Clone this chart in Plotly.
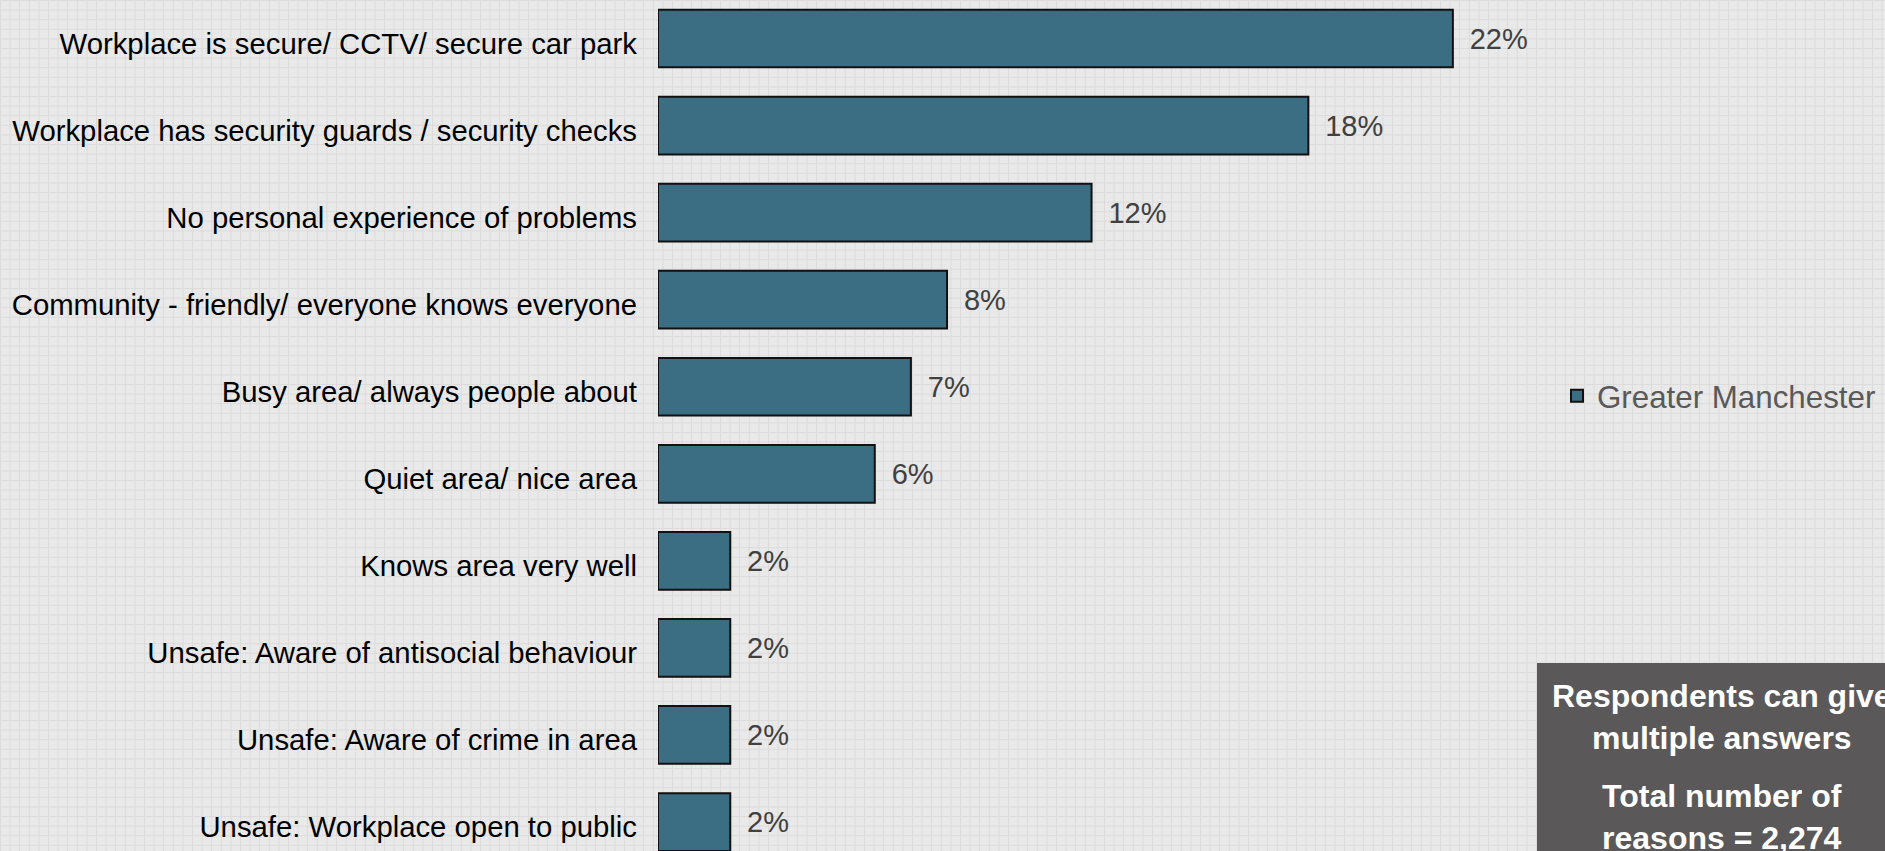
import plotly.graph_objects as go

categories = [
    "Workplace is secure/ CCTV/ secure car park",
    "Workplace has security guards / security checks",
    "No personal experience of problems",
    "Community - friendly/ everyone knows everyone",
    "Busy area/ always people about",
    "Quiet area/ nice area",
    "Knows area very well",
    "Unsafe: Aware of antisocial behaviour",
    "Unsafe: Aware of crime in area",
    "Unsafe: Workplace open to public",
]
values = [22, 18, 12, 8, 7, 6, 2, 2, 2, 2]
series_name = "Greater Manchester"
note_1 = "Respondents can give<br>multiple answers"
note_2 = "Total number of<br>reasons = 2,274"

W, H = 1885, 851
L = 658
PW = W - L
PX_PER_UNIT = 36.13
GRID_STEP = 9.6


def px_x(px):
    return (px - L) / PW


def px_y(py):
    return 1 - py / H


FONT = "Arial, Liberation Sans, sans-serif"

fig = go.Figure()
fig.add_trace(go.Bar(
    y=categories,
    x=values,
    orientation="h",
    name=series_name,
    marker=dict(color="#3B6E82", line=dict(color="#111111", width=2)),
    text=values,
    texttemplate="\u2009\u00a0%{x}%",
    textposition="outside",
    textfont=dict(family=FONT, size=29, color="#404040"),
    cliponaxis=False,
    showlegend=True,
))

y_top = -38.5 / 87.06
y_bot = (H - 38.5) / 87.06

# faint background texture grid
shapes = []
gx = 0.0
while gx < W:
    shapes.append(dict(type="line", xref="paper", yref="paper", layer="below",
                       x0=px_x(gx + 0.5), x1=px_x(gx + 0.5), y0=px_y(0), y1=px_y(H),
                       line=dict(color="#dcdcdc", width=1)))
    gx += GRID_STEP
gy = 0.0
while gy < H:
    shapes.append(dict(type="line", xref="paper", yref="paper", layer="below",
                       x0=px_x(0), x1=px_x(W), y0=px_y(gy + 0.5), y1=px_y(gy + 0.5),
                       line=dict(color="#dcdcdc", width=1)))
    gy += GRID_STEP

shapes.append(dict(
    type="rect", xref="paper", yref="paper",
    x0=px_x(1537), x1=px_x(1920), y0=px_y(663), y1=px_y(900),
    fillcolor="#5A5858", line=dict(width=0), layer="above",
))

fig.update_layout(
    width=W,
    height=H,
    margin=dict(l=L, r=0, t=0, b=0, autoexpand=False),
    paper_bgcolor="#e9e9e9",
    plot_bgcolor="rgba(0,0,0,0)",
    bargap=0.337,
    xaxis=dict(range=[0, PW / PX_PER_UNIT], visible=False, showgrid=False, zeroline=False),
    yaxis=dict(
        range=[y_bot, y_top],
        showgrid=False,
        zeroline=False,
        showline=False,
        ticks="",
        ticklabelstandoff=20,
        ticklabelshift=-5,
        tickfont=dict(family=FONT, size=29.3, color="#000000"),
    ),
    legend=dict(
        x=px_x(1557),
        y=px_y(396),
        xanchor="left",
        yanchor="middle",
        font=dict(family=FONT, size=31.3, color="#595959"),
        bgcolor="rgba(0,0,0,0)",
    ),
    shapes=shapes,
    annotations=[
        dict(text=note_1, xref="paper", yref="paper", x=px_x(1722), y=px_y(717),
             xanchor="center", yanchor="middle", showarrow=False, align="center",
             font=dict(family=FONT, size=32, color="#ffffff", weight="bold")),
        dict(text=note_2, xref="paper", yref="paper", x=px_x(1722), y=px_y(817),
             xanchor="center", yanchor="middle", showarrow=False, align="center",
             font=dict(family=FONT, size=32, color="#ffffff", weight="bold")),
    ],
)

fig.write_html(
    "out.html",
    config={"displayModeBar": False},
    post_script="document.body.style.margin='0px';",
)
